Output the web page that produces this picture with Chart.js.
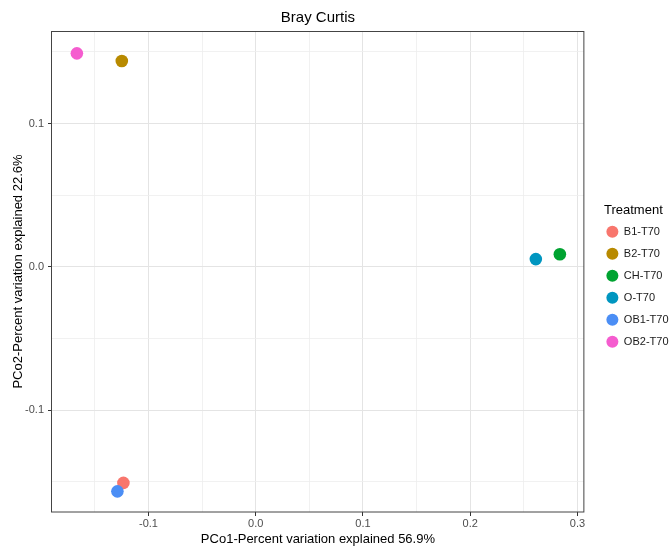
<!DOCTYPE html>
<html>
<head>
<meta charset="utf-8">
<title>Bray Curtis</title>
<script src="https://cdn.jsdelivr.net/npm/chart.js@4.4.1/dist/chart.umd.min.js"></script>
<style>
  html, body { margin: 0; padding: 0; background: #fff; }
  #wrap { width: 672px; height: 547px; }
</style>
</head>
<body>
<div id="wrap"><canvas id="pcoa" width="672" height="547"></canvas></div>
<script>
// PCoA scores, one point per treatment
var treatments = ['B1-T70', 'B2-T70', 'CH-T70', 'O-T70', 'OB1-T70', 'OB2-T70'];
var pco1 = [-0.1234, -0.1249, 0.2836, 0.2612, -0.1290, -0.1668];
var pco2 = [-0.1507, 0.1436, 0.0088, 0.0054, -0.1566, 0.1489];
var colors = ['#F8766D', '#B88A00', '#00A331', '#0096C0', '#4B8EF5', '#F55CCF'];

// labelled ticks and the minor grid in between
var xMajor = [-0.1, 0.0, 0.1, 0.2, 0.3];
var xMinor = [-0.15, -0.05, 0.05, 0.15, 0.25];
var yMajor = [-0.1, 0.0, 0.1];
var yMinor = [-0.15, -0.05, 0.05, 0.15];

Chart.defaults.font.family = "'Liberation Sans', Arial, sans-serif";

function setTicks(major, minor) {
    return function (scale) {
        var t = major.map(function (v) { return { value: v, major: true }; })
            .concat(minor.map(function (v) { return { value: v, major: false }; }));
        t.sort(function (a, b) { return a.value - b.value; });
        scale.ticks = t;
    };
}

function tickLabel(value, index, ticks) {
    return ticks[index].major ? value.toFixed(1) : '';
}

var gridStyle = {
    color: function (c) { return c.tick && c.tick.major ? '#e4e4e4' : '#eeeeee'; },
    lineWidth: function (c) { return c.tick && c.tick.major ? 1 : 0.8; },
    tickColor: function (c) { return c.tick && c.tick.major ? '#333333' : 'rgba(0,0,0,0)'; },
    tickLength: 4,
    tickWidth: 1
};

// ggplot-style box round the panel
var panelBorder = {
    id: 'panelBorder',
    beforeDatasetsDraw: function (chart) {
        var a = chart.chartArea, ctx = chart.ctx;
        ctx.save();
        ctx.strokeStyle = '#444444';
        ctx.lineWidth = 1;
        ctx.strokeRect(a.left - 0.5, a.top + 0.5, a.right - a.left + 0.5, a.bottom - a.top - 0.5);
        ctx.restore();
    }
};

// leave a gap between the panel and the legend
var legendGap = {
    id: 'legendGap',
    afterLayout: function (chart) {
        var lg = chart.legend;
        lg.left = chart.chartArea.right + 11.5;
        lg.width = 76;
        lg.right = lg.left + lg.width;
    }
};

var chart = new Chart(
    document.getElementById('pcoa'),
    {
        type: 'scatter',
        data: {
            datasets: treatments.map(function (name, i) {
                return {
                    label: name,
                    data: [{ x: pco1[i], y: pco2[i] }],
                    backgroundColor: colors[i],
                    borderWidth: 0,
                    pointRadius: 6.3,
                    pointHoverRadius: 6.3,
                    order: treatments.length - i
                };
            })
        },
        options: {
            responsive: false,
            animation: false,
            events: [],
            layout: { padding: { left: 0, right: 5, top: 0, bottom: 0 } },
            plugins: {
                tooltip: { enabled: false },
                title: {
                    display: true,
                    text: 'Bray Curtis',
                    fullSize: false,
                    color: '#000',
                    font: { size: 15, weight: 'normal' },
                    padding: { top: 9, bottom: 4 }
                },
                legend: {
                    position: 'right',
                    align: 'center',
                    labels: {
                        usePointStyle: true,
                        pointStyle: 'circle',
                        pointStyleWidth: 12,
                        boxHeight: 8.5,
                        padding: 11,
                        color: '#1a1a1a',
                        font: { size: 11 },
                        sort: function (a, b) { return a.datasetIndex - b.datasetIndex; }
                    },
                    title: {
                        display: true,
                        text: 'Treatment',
                        position: 'center',
                        color: '#000',
                        font: { size: 13 },
                        padding: { top: 14.7, bottom: -3.9 }
                    }
                }
            },
            scales: {
                x: {
                    type: 'linear',
                    position: 'bottom',
                    min: -0.19,
                    max: 0.306,
                    afterBuildTicks: setTicks(xMajor, xMinor),
                    afterFit: function (scale) { scale.height = 35; },
                    ticks: { callback: tickLabel, autoSkip: false, maxRotation: 0, padding: 1, color: '#4d4d4d', font: { size: 11 } },
                    grid: gridStyle,
                    border: { display: false },
                    title: {
                        display: true,
                        text: 'PCo1-Percent variation explained 56.9%',
                        color: '#000',
                        font: { size: 13 },
                        padding: { top: 0, bottom: 0 }
                    }
                },
                y: {
                    type: 'linear',
                    min: -0.171,
                    max: 0.1645,
                    afterBuildTicks: setTicks(yMajor, yMinor),
                    afterFit: function (scale) { scale.width = 52; },
                    ticks: { callback: tickLabel, autoSkip: false, padding: 4, color: '#4d4d4d', font: { size: 11 } },
                    grid: gridStyle,
                    border: { display: false },
                    title: {
                        display: true,
                        text: 'PCo2-Percent variation explained 22.6%',
                        color: '#000',
                        font: { size: 13 },
                        padding: { top: 11, bottom: 0 }
                    }
                }
            }
        },
        plugins: [panelBorder, legendGap]
    }
);
</script>
</body>
</html>
